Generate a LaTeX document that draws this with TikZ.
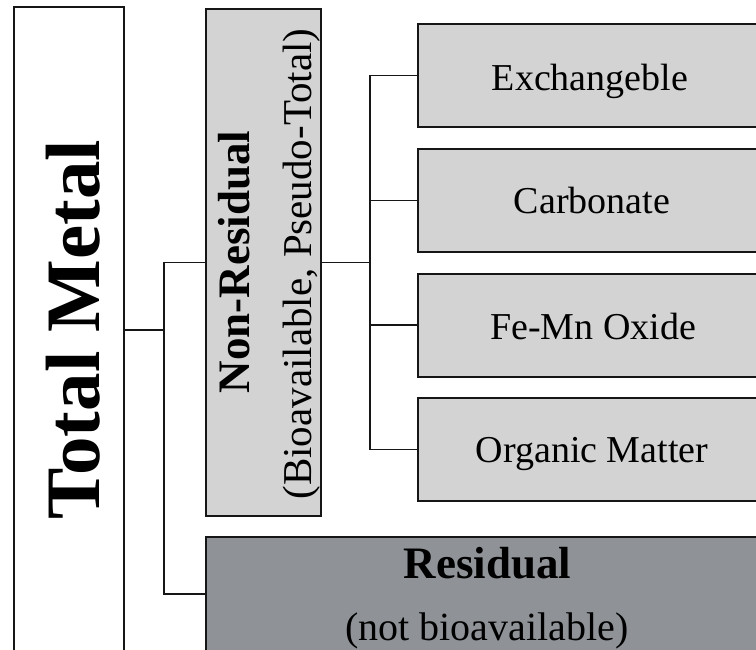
\documentclass[tikz,border=0pt]{standalone}
\usepackage{fontspec}
\setmainfont{Liberation Serif}
\definecolor{lightfill}{RGB}{211,211,211}
\definecolor{darkfill}{RGB}{143,147,151}
\definecolor{edge}{RGB}{22,22,22}
\begin{document}
\begin{tikzpicture}[x=1pt,y=-1pt,
  box/.style={draw=edge, line width=2pt, inner sep=0pt, outer sep=0pt},
  whitebox/.style={box, fill=white},
  lightbox/.style={box, fill=lightfill},
  darkbox/.style={box, fill=darkfill},
  fracbox/.style={lightbox, minimum width=344pt, minimum height=103pt},
  link/.style={draw=edge, line width=1.5pt},
  fraclabel/.style={anchor=base, font=\fontsize{38}{40}\selectfont},
  uplabel/.style={rotate=90, anchor=base},
]
\useasboundingbox (0,0) rectangle (756,649);
\clip (0,0) rectangle (756,649);
\fill[white] (0,0) rectangle (756,649);

% boxes
\node[whitebox, minimum width=110pt, minimum height=646pt] (tm) at (69,330) {};
\node[lightbox, minimum width=115pt, minimum height=507pt] (nr) at (263.5,262.5) {};
\node[darkbox, minimum width=562pt, minimum height=114pt] (rs) at (487,594) {};
\node[fracbox] (ex) at (590,75.5) {};
\node[fracbox] (ca) at (590,200.5) {};
\node[fracbox] (fe) at (590,325) {};
\node[fracbox] (om) at (590,449.5) {};

% labels
\node[uplabel, font=\bfseries\fontsize{77}{80}\selectfont] (tmlabel) at (99,330) {Total Metal};
\node[uplabel, font=\bfseries\fontsize{45}{48}\selectfont] (nrlabel) at (249,262) {Non-Residual};
\node[uplabel, font=\fontsize{41}{44}\selectfont] (nrnote) at (311,264) {(Bioavailable, Pseudo-Total)};
\node[fraclabel] (exlabel) at (590,90) {Exchangeble};
\node[fraclabel] (calabel) at (592,213) {Carbonate};
\node[fraclabel] (felabel) at (593,339) {Fe-Mn Oxide};
\node[fraclabel] (omlabel) at (592,462) {Organic Matter};
\node[anchor=base, font=\bfseries\fontsize{45}{48}\selectfont] (rslabel) at (487.5,578) {Residual};
\node[anchor=base, font=\fontsize{40}{44}\selectfont] (rsnote) at (487,640) {(not bioavailable)};

% connectors
\coordinate (j1) at (164,330);
\coordinate (j2) at (370,262.5);
\draw[link] (tm.east) -- (j1);
\draw[link] (nr.west) -| (j1) |- (rs.west);
\draw[link] (nr.east) -- (j2);
\draw[link] (ex.west) -| (j2) |- (om.west);
\draw[link] (ca.west) -- (ca.west -| j2);
\draw[link] (fe.west) -- (fe.west -| j2);
\end{tikzpicture}
\end{document}
